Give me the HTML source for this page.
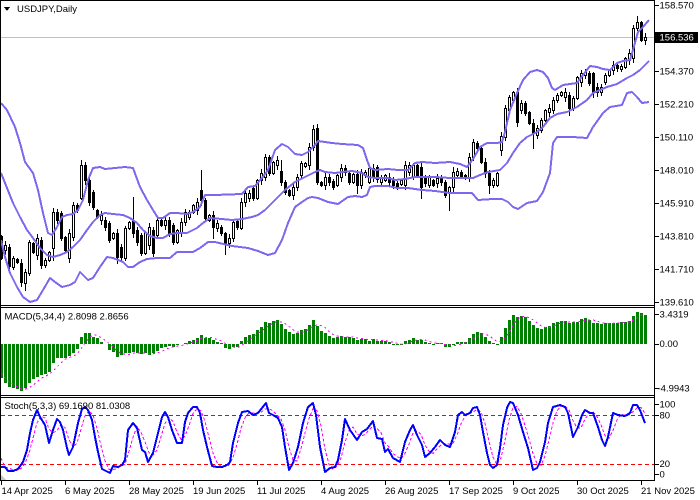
<!DOCTYPE html>
<html><head><meta charset="utf-8">
<style>
html,body{margin:0;padding:0;background:#fff;}
svg{display:block;font-family:"Liberation Sans",sans-serif;}
text{font-size:9.5px;fill:#000;}
</style></head>
<body>
<svg id="c" width="700" height="500" xmlns="http://www.w3.org/2000/svg" shape-rendering="crispEdges">
<rect x="0" y="0" width="700" height="500" fill="#fff"/>
<!-- bid line -->
<rect x="1" y="37" width="653" height="1" fill="#c0c0c0"/>
<g id="dyn"></g>
<!-- frames -->
<rect x="0" y="0" width="655" height="1" fill="#000"/>
<rect x="0" y="0" width="1" height="481" fill="#000"/>
<rect x="654" y="0" width="1" height="481" fill="#000"/>
<rect x="0" y="305" width="655" height="1" fill="#000"/>
<rect x="0" y="307" width="655" height="1" fill="#000"/>
<rect x="0" y="395" width="655" height="1" fill="#000"/>
<rect x="0" y="397" width="655" height="1" fill="#000"/>
<rect x="0" y="480" width="655" height="1" fill="#000"/>
<!-- price ticks -->
<g fill="#000">
<rect x="655" y="5" width="4" height="1"/>
<rect x="655" y="71" width="4" height="1"/>
<rect x="655" y="104" width="4" height="1"/>
<rect x="655" y="137" width="4" height="1"/>
<rect x="655" y="170" width="4" height="1"/>
<rect x="655" y="203" width="4" height="1"/>
<rect x="655" y="236" width="4" height="1"/>
<rect x="655" y="269" width="4" height="1"/>
<rect x="655" y="302" width="4" height="1"/>
<rect x="655" y="314" width="4" height="1"/>
<rect x="655" y="344" width="4" height="1"/>
<rect x="655" y="388" width="4" height="1"/>
<rect x="655" y="404" width="4" height="1"/>
<rect x="655" y="415" width="4" height="1"/>
<rect x="655" y="464" width="4" height="1"/>
<rect x="655" y="474" width="4" height="1"/>
</g>
<text x="659.5" y="8.5">158.570</text>
<rect x="655" y="32" width="43" height="11" fill="#000"/>
<text x="659.5" y="40.7" style="fill:#fff">156.536</text>
<text x="659.5" y="74.5">154.370</text>
<text x="659.5" y="107.5">152.210</text>
<text x="659.5" y="140.5">150.110</text>
<text x="659.5" y="173.5">148.010</text>
<text x="659.5" y="206.5">145.910</text>
<text x="659.5" y="239.5">143.810</text>
<text x="659.5" y="272.5">141.710</text>
<text x="659.5" y="305.5">139.610</text>
<text x="659.5" y="317.5">3.4319</text>
<text x="659.5" y="347">0.00</text>
<text x="657.5" y="391.7">-4.9943</text>
<text x="659.5" y="407.7">100</text>
<text x="659.5" y="418.7">80</text>
<text x="659.5" y="467">20</text>
<text x="659.5" y="477.3">0</text>
<!-- titles -->
<polygon points="4,7 10,7 7,11" fill="#000"/>
<text x="17" y="12">USDJPY,Daily</text>
<text x="4.5" y="319.5">MACD(5,34,4) 2.8098 2.8656</text>
<text x="4.5" y="408.8">Stoch(5,3,3) 69.1690 81.0308</text>
<polygon points="1,475 1,480 6,480" fill="#c8c8c8"/>
<!-- date ticks -->
<g fill="#000">
<rect x="1" y="481" width="1" height="4"/>
<rect x="65" y="481" width="1" height="4"/>
<rect x="129" y="481" width="1" height="4"/>
<rect x="193" y="481" width="1" height="4"/>
<rect x="257" y="481" width="1" height="4"/>
<rect x="321" y="481" width="1" height="4"/>
<rect x="385" y="481" width="1" height="4"/>
<rect x="449" y="481" width="1" height="4"/>
<rect x="513" y="481" width="1" height="4"/>
<rect x="577" y="481" width="1" height="4"/>
<rect x="641" y="481" width="1" height="4"/>
</g>
<text x="1.5" y="494">14 Apr 2025</text>
<text x="65" y="494">6 May 2025</text>
<text x="129" y="494">28 May 2025</text>
<text x="193" y="494">19 Jun 2025</text>
<text x="257" y="494">11 Jul 2025</text>
<text x="321" y="494">4 Aug 2025</text>
<text x="385" y="494">26 Aug 2025</text>
<text x="449" y="494">17 Sep 2025</text>
<text x="513" y="494">9 Oct 2025</text>
<text x="577" y="494">30 Oct 2025</text>
<text x="641" y="494">21 Nov 2025</text>
</svg>
<script>
(function(){
var NS="http://www.w3.org/2000/svg";
var g=document.getElementById("dyn");
function el(tag,a,p){var e=document.createElementNS(NS,tag);for(var k in a)e.setAttribute(k,a[k]);(p||g).appendChild(e);return e;}
function pts(a){return a.map(function(p){return p[0]+","+p[1];}).join(" ");}

// red level lines for stoch
el("line",{x1:1,y1:415.5,x2:654,y2:415.5,stroke:"#ff0000","stroke-width":1,"stroke-dasharray":"4,3"});
el("line",{x1:1,y1:464.5,x2:654,y2:464.5,stroke:"#ff0000","stroke-width":1,"stroke-dasharray":"4,3"});

// candles
var cd="b236,258 w245,250 b247,266 w258,267 b259,262 b263,282 w272,283 w242,273 b243,252 w238,255 b240,265 w260,265 w252,260 w212,248 b212,220 b213,238 b237,250 w233,258 w205,237 b205,210 w165,198 b165,180 b180,202 b192,207 b210,217 w215,220 b220,227 b223,240 w233,238 b233,257 b247,257 w228,258 w222,228 b220,233 b230,242 b235,253 w232,253 w227,245 b230,253 w220,235 b220,225 w220,225 b220,233 b225,242 w230,242 w222,232 w212,222 w212,217 w205,212 w202,210 b190,200 b200,218 w215,220 b215,227 w223,228 b227,233 b233,243 w238,243 w222,238 b221,227 w202,228 w193,202 w193,198 b188,198 w180,198 w173,180 w157,177 b157,173 w162,173 w160,165 b171,182 b182,192 b190,195 w187,195 w177,187 w163,175 w163,166 w147,165 w129,147 b128,182 b182,185 w177,185 b177,182 b181,187 w175,185 w168,177 b168,172 b173,182 w174,182 b174,185 w172,185 w172,175 w168,182 b168,177 b167,179 w177,182 w175,180 b177,182 b180,185 b183,187 w180,184 w165,185 w165,172 w165,177 b165,175 b167,187 b178,183 w177,185 b180,185 w178,183 b178,182 b182,195 w187,193 w172,187 w171,175 b172,176 b175,178 w157,177 w142,157 b143,148 b148,162 b162,173 b173,185 w180,185 w173,185 w136,150 w108,137 w97,110 w92,100 b92,122 w103,110 b103,113 b112,123 b123,133 w128,135 w120,130 w110,120 w108,112 w100,110 w95,100 w92,95 w92,97 b95,108 w98,108 w77,98 w73,82 w72,75 b73,83 b73,92 b87,92 w87,92 w75,82 w70,75 w65,70 b65,68 w66,69 w58,67 w53,60 w28,58 w22,28 b22,40 w37,40".split(" ");
var HI={20:160,21:162,33:197,50:170,60:198,70:160,78:125,79:124,94:165,113:167,145:70,159:16};
var LO={6:290,13:260,29:263,50:205,53:238,56:254,89:193,105:198,112:210,122:193,125:155,133:148,142:115,148:97,158:62};
for(var i=0;i<cd.length;i++){
  var s=cd[i],wh=s[0]==="w",nums=s.slice(1).split(","),top=+nums[0],bot=+nums[1];
  var cx=1+4*i;
  var hi=HI[i]!==undefined?HI[i]:top-(1+(i*7)%4);
  var lo=LO[i]!==undefined?LO[i]:bot+(1+(i*3)%4);
  el("rect",{x:cx,y:hi,width:1,height:lo-hi+1,fill:"#000"});
  el("rect",{x:cx-1,y:top,width:3,height:bot-top+1,fill:"#000"});
  if(wh&&bot-top-1>0)el("rect",{x:cx,y:top+1,width:1,height:bot-top-1,fill:"#fff"});
}

// bollinger bands
var up=[[1,103],[7,110],[15,127],[20,143],[25,162],[33,173],[38,190],[43,213],[48,233],[52,235],[57,227],[62,217],[67,215],[73,214],[78,210],[83,200],[88,180],[93,168],[100,167],[105,169],[115,168],[125,167],[133,168],[140,187],[147,200],[153,210],[158,218],[163,218],[170,213],[177,213],[187,214],[193,212],[200,207],[205,195],[215,195],[242,194],[248,187],[255,186],[262,178],[268,170],[275,150],[282,144],[288,147],[295,154],[302,155],[308,152],[315,145],[318,141],[325,142],[332,143],[342,144],[358,145],[363,148],[367,160],[370,168],[375,170],[388,169],[398,170],[408,170],[415,163],[422,162],[435,163],[450,162],[460,164],[467,167],[473,159],[480,147],[487,143],[497,143],[502,142],[505,132],[510,110],[517,93],[523,80],[530,72],[537,70],[543,72],[548,78],[552,88],[555,90],[563,85],[577,83],[583,75],[590,66],[597,67],[603,69],[610,70],[617,63],[623,61],[630,60],[633,50],[638,32],[643,27],[649,20]];
var mid=[[1,173],[7,188],[13,203],[20,217],[27,230],[33,238],[40,248],[47,255],[53,257],[60,255],[67,252],[73,247],[80,240],[87,230],[93,222],[100,215],[105,213],[113,214],[123,215],[130,218],[137,223],[143,230],[150,236],[157,238],[163,238],[170,234],[177,233],[187,233],[197,228],[203,223],[210,218],[222,219],[232,220],[242,219],[252,217],[258,215],[265,210],[275,200],[285,190],[295,182],[305,177],[315,172],[320,170],[325,172],[335,173],[342,172],[352,171],[362,173],[368,177],[375,178],[388,178],[395,180],[405,179],[415,177],[425,177],[435,177],[450,178],[460,178],[473,178],[480,175],[488,172],[500,170],[507,163],[513,153],[520,143],[527,137],[537,132],[543,127],[550,118],[557,114],[567,112],[577,107],[587,100],[593,93],[600,90],[607,87],[617,84],[627,78],[633,75],[640,70],[649,61]];
var lw=[[1,240],[5,257],[10,273],[17,287],[23,297],[30,302],[37,300],[43,290],[50,278],[55,282],[62,287],[70,285],[75,282],[80,272],[83,275],[88,280],[93,278],[100,267],[107,257],[113,258],[118,260],[123,262],[128,267],[133,267],[140,262],[147,259],[157,258],[170,258],[177,252],[193,252],[200,248],[208,242],[215,242],[232,246],[248,248],[258,251],[268,255],[275,253],[282,240],[288,223],[295,207],[302,202],[308,198],[312,197],[318,198],[328,202],[338,204],[348,197],[355,196],[362,197],[367,195],[370,187],[375,186],[388,186],[397,188],[408,188],[422,190],[435,191],[450,193],[463,193],[472,193],[478,200],[493,199],[502,199],[508,202],[513,207],[518,209],[527,203],[537,201],[543,192],[550,173],[553,143],[557,137],[573,137],[587,138],[593,127],[603,113],[610,107],[622,105],[627,93],[632,92],[637,97],[642,103],[649,102]];
[up,mid,lw].forEach(function(a){el("polyline",{points:pts(a),fill:"none",stroke:"#7b68ee","stroke-width":2,"stroke-linejoin":"round"});});

// MACD histogram
var mv=[378,383,387,388,389,391,388,383,379,377,375,374,372,363,358,358,358,356,353,349,
337,333,333,337,338,342,344,350,352,357,355,353,353,352,353,354,353,355,353,351,
348,347,346,347,345,344,343,341,340,338,335,338,338,340,342,343,348,349,347,347,
341,337,335,334,330,327,322,323,321,320,324,329,332,334,333,330,329,325,320,326,
331,333,336,338,337,336,337,337,338,340,339,339,341,339,341,341,341,342,345,345,
345,341,340,338,340,340,342,343,345,343,343,347,347,345,342,342,342,338,334,332,
333,337,341,343,345,337,328,320,315,317,316,317,321,325,328,329,327,326,323,322,
321,321,323,322,322,319,318,320,323,323,324,323,323,323,323,322,322,321,316,312,
313,315];
var Z=344,sig=[];
for(var i=0;i<mv.length;i++){
  var cx=1+4*i,v=mv[i];
  if(v<Z)el("rect",{x:cx-1,y:v,width:3,height:Z-v,fill:"#008000"});
  else if(v>Z)el("rect",{x:cx-1,y:Z,width:3,height:v-Z,fill:"#008000"});
  var n=0,sm=0;for(var j=Math.max(0,i-3);j<=i;j++){sm+=mv[j];n++;}
  sig.push([cx,(sm/n).toFixed(1)]);
}
sig[0][1]=373;sig[1][1]=378;sig[2][1]=382;
el("polyline",{points:pts(sig),fill:"none",stroke:"#ff00ff","stroke-width":1,"stroke-dasharray":"2,3"});

// Stochastic
var K=[[1,467],[5,467],[8,471],[13,471],[18,469],[23,462],[27,450],[30,433],[33,420],[37,410],[40,417],[45,425],[49,443],[53,430],[57,419],[60,422],[63,430],[67,448],[69,455],[73,447],[78,423],[82,409],[85,407],[88,410],[92,420],[95,437],[98,452],[102,469],[106,471],[110,473],[113,466],[118,467],[122,465],[125,460],[128,430],[133,423],[137,428],[142,450],[145,452],[148,462],[153,453],[158,433],[162,417],[165,412],[168,417],[172,430],[177,443],[182,443],[185,422],[188,413],[193,407],[197,407],[200,413],[203,430],[207,447],[212,466],[217,467],[222,467],[227,465],[230,462],[233,443],[238,423],[242,412],[248,411],[253,415],[258,413],[262,408],[266,403],[269,413],[273,415],[278,418],[282,427],[285,447],[289,470],[293,463],[298,447],[303,423],[308,407],[313,403],[316,415],[320,447],[325,472],[330,468],[335,467],[338,460],[342,440],[345,419],[350,430],[357,440],[362,432],[367,429],[373,421],[377,438],[382,439],[385,452],[388,449],[393,458],[400,462],[405,442],[410,430],[413,425],[417,435],[422,445],[425,457],[430,453],[435,447],[440,440],[445,445],[450,447],[455,432],[458,415],[462,412],[465,415],[470,413],[473,408],[477,407],[480,415],[483,432],[487,453],[490,465],[493,468],[497,465],[500,448],[503,425],[507,408],[510,402],[513,403],[518,415],[523,432],[528,448],[533,470],[537,468],[540,462],[545,442],[548,423],[553,407],[560,405],[565,407],[568,413],[573,437],[578,427],[582,415],[585,410],[590,413],[593,413],[598,427],[602,440],[605,446],[608,437],[613,413],[618,415],[625,416],[630,413],[633,405],[637,405],[640,410],[645,423]];
function interp(x){
  if(x<=K[0][0])return K[0][1];
  for(var j=1;j<K.length;j++){if(K[j][0]>=x){var a=K[j-1],b=K[j];return a[1]+(b[1]-a[1])*(x-a[0])/(b[0]-a[0]);}}
  return K[K.length-1][1];
}
var ks=[];for(var i=0;i<162;i++)ks.push(interp(1+4*i));
var ss=[];for(var i=0;i<162;i++){var n=0,sm=0;for(var j=Math.max(0,i-2);j<=i;j++){sm+=ks[j];n++;}ss.push([1+4*i,(sm/n).toFixed(1)]);}
ss[0][1]=458;
el("polyline",{points:pts(ss),fill:"none",stroke:"#ff00ff","stroke-width":1,"stroke-dasharray":"3,2"});
el("polyline",{points:pts(K),fill:"none",stroke:"#0000ff","stroke-width":2,"stroke-linejoin":"round"});
})();
</script>
</body></html>
